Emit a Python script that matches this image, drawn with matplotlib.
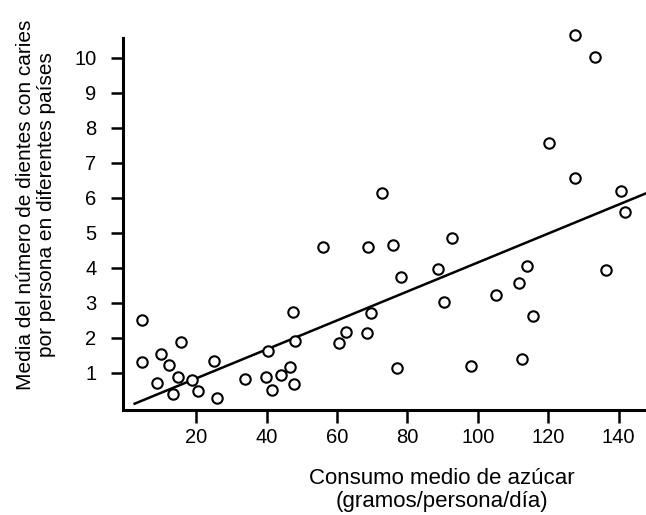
import matplotlib
matplotlib.use("Agg")
import matplotlib.pyplot as plt

plt.rcParams['font.family'] = ['Liberation Sans', 'DejaVu Sans']

# consumo medio de azúcar (g/persona/día) y media de dientes con caries
azucar = [4.7, 4.7, 8.9, 9.9, 12.3, 13.4, 14.7, 15.8, 18.9, 20.4,
          25.0, 25.8, 33.8, 39.7, 40.4, 41.4, 44.0, 46.6, 47.7, 47.5,
          48.0, 56.0, 60.5, 62.7, 68.6, 68.8, 69.6, 72.8, 75.9, 77.1,
          78.3, 88.7, 90.4, 92.8, 98.2, 105.3, 111.6, 112.7, 114.1, 115.7,
          120.3, 127.6, 127.6, 133.2, 136.4, 140.8, 141.9]
caries = [2.51, 1.31, 0.72, 1.55, 1.23, 0.39, 0.87, 1.87, 0.79, 0.49,
          1.34, 0.29, 0.83, 0.87, 1.63, 0.51, 0.93, 1.16, 0.69, 2.73,
          1.92, 4.61, 1.85, 2.18, 2.13, 4.61, 2.71, 6.15, 4.66, 1.13,
          3.75, 3.96, 3.04, 4.85, 1.20, 3.23, 3.56, 1.39, 4.06, 2.64,
          7.58, 10.66, 6.56, 10.04, 3.94, 6.20, 5.59]

# recta de regresión (extremos)
recta_x = [2.5, 148.0]
recta_y = [0.12, 6.14]

xticks = [20, 40, 60, 80, 100, 120, 140]
yticks = [1, 2, 3, 4, 5, 6, 7, 8, 9, 10]

fig = plt.figure(figsize=(6.46, 5.15), dpi=100)
ax = fig.add_axes([123 / 646, 105 / 515, 523 / 646, 372 / 515])

ax.plot(azucar, caries, 'o', mfc='white', mec='black', ms=7.5, mew=1.5,
        clip_on=False, zorder=3)
ax.plot(recta_x, recta_y, color='black', lw=1.8, clip_on=False)

ax.set_xlim(-0.8, 147.8)
ax.set_ylim(-0.06, 10.57)
ax.set_xticks(xticks)
ax.set_yticks(yticks)
ax.tick_params(axis='both', length=9, width=1.8, labelsize=14.5)
ax.tick_params(axis='x', pad=4)
ax.tick_params(axis='y', pad=10)

for s in ['top', 'right']:
    ax.spines[s].set_visible(False)
for s in ['left', 'bottom']:
    ax.spines[s].set_linewidth(2.2)

ax.set_xlabel('Consumo medio de azúcar\n(gramos/persona/día)', fontsize=16,
              va='center', linespacing=1.1)
ax.xaxis.set_label_coords(0.61, -0.215)
ax.set_ylabel('Media del número de dientes con caries\npor persona en diferentes países',
              fontsize=15, va='center', linespacing=1.15)
ax.yaxis.set_label_coords(-0.166, 0.551)

fig.savefig('out.png', dpi=100)
